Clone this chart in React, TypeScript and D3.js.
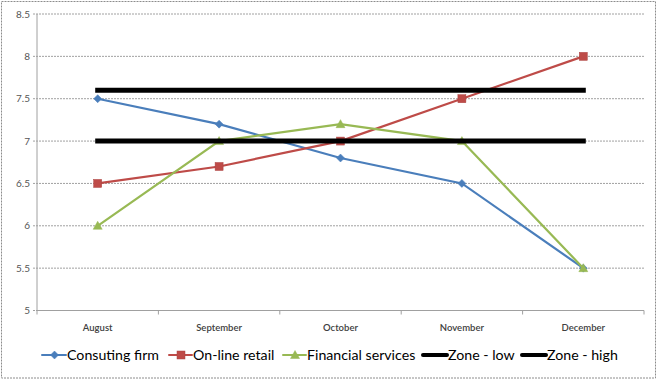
import React from "react";
import * as d3 from "d3";

const categories = ["August", "September", "October", "November", "December"];
const consulting = [7.5, 7.2, 6.8, 6.5, 5.5];
const retail = [6.5, 6.7, 7.0, 7.5, 8.0];
const financial = [6.0, 7.0, 7.2, 7.0, 5.5];
const zoneLow = [7, 7, 7, 7, 7];
const zoneHigh = [7.6, 7.6, 7.6, 7.6, 7.6];
const yTicks = [5, 5.5, 6, 6.5, 7, 7.5, 8, 8.5];
const seriesNames = ["Consuting firm", "On-line retail", "Financial services", "Zone - low", "Zone - high"];

const W = 659, H = 381;
const L = 37, R = 644, T = 14, B = 310.5;

export default function App() {
  const x = d3.scaleBand<string>().domain(categories).range([L, R]);
  const xc = (c: string) => (x(c) as number) + x.bandwidth() / 2;
  const y = d3.scaleLinear().domain([5, 8.5]).range([B, T]);
  const line = d3.line<number>().x((_, i) => xc(categories[i])).y((d) => y(d));

  const series = [
    { name: seriesNames[0], data: consulting, color: "#4A7EBB", marker: "diamond", w: 2.2 },
    { name: seriesNames[1], data: retail, color: "#BE4B48", marker: "square", w: 2.2 },
    { name: seriesNames[2], data: financial, color: "#98B954", marker: "triangle", w: 2.2 },
    { name: seriesNames[3], data: zoneLow, color: "#000000", marker: "none", w: 5 },
    { name: seriesNames[4], data: zoneHigh, color: "#000000", marker: "none", w: 5 },
  ];

  const marker = (type: string, cx: number, cy: number, color: string, key: string | number) => {
    if (type === "diamond") {
      return <path key={key} d={`M${cx},${cy - 4}L${cx + 4},${cy}L${cx},${cy + 4}L${cx - 4},${cy}Z`} fill={color} stroke={color} strokeWidth={0.5} />;
    }
    if (type === "square") {
      return <rect key={key} x={cx - 4} y={cy - 4} width={8} height={8} fill={color} stroke={d3.color(color)!.darker(0.3).toString()} strokeWidth={0.5} />;
    }
    if (type === "triangle") {
      return <path key={key} d={`M${cx},${cy - 4.5}L${cx + 4.5},${cy + 3.5}L${cx - 4.5},${cy + 3.5}Z`} fill={color} stroke={color} strokeWidth={0.5} />;
    }
    return null;
  };

  const legendLineStart = [42, 169, 283, 423, 522];
  const legendTextStart = [67, 193, 307, 448, 547];

  return (
    <svg width={W} height={H} style={{ position: "absolute", left: 0, top: 0, background: "#fff" }}>
      <rect x={1.5} y={1.5} width={654} height={376.5} fill="#fff" stroke="#8c8c8c" strokeWidth={1} strokeDasharray="2,1" />
      {yTicks.map((t) => (
        <g key={t}>
          <line x1={L - 4} x2={R} y1={y(t)} y2={y(t)} stroke="#a0a0a0" strokeWidth={1} strokeDasharray="2,1" />
          <text x={L - 7} y={y(t)} dy="0.35em" textAnchor="end" fontFamily="Lato, 'Open Sans', sans-serif" fontSize={10} fill="#555">{t}</text>
        </g>
      ))}
      <line x1={L} x2={L} y1={T} y2={B} stroke="#a0a0a0" strokeWidth={1} />
      <line x1={L} x2={R} y1={B} y2={B} stroke="#a0a0a0" strokeWidth={1} />
      {categories.map((c, i) => (
        <line key={"tk" + i} x1={(x(c) as number) + x.bandwidth()} x2={(x(c) as number) + x.bandwidth()} y1={B} y2={B + 4} stroke="#a0a0a0" />
      ))}
      <line x1={L} x2={L} y1={B} y2={B + 4} stroke="#a0a0a0" />
      {categories.map((c) => (
        <text key={c} x={xc(c)} y={331} textAnchor="middle" fontFamily="Lato, 'Open Sans', sans-serif" fontSize={9.5} fontWeight={600} fill="#404040">{c}</text>
      ))}
      {series.map((s) => (
        <g key={s.name}>
          <path d={line(s.data) as string} fill="none" stroke={s.color} strokeWidth={s.w} strokeLinecap={s.marker === "none" ? "square" : "round"} />
          {s.data.map((v, i) => marker(s.marker, xc(categories[i]), y(v), s.color, i))}
        </g>
      ))}
      {series.map((s, i) => {
        const lx = legendLineStart[i];
        const tx = legendTextStart[i];
        const ly = 355;
        return (
          <g key={"lg" + i}>
            <line x1={lx} x2={tx - 1} y1={ly} y2={ly} stroke={s.color} strokeWidth={s.marker === "none" ? 4 : 2} strokeLinecap="round" />
            {marker(s.marker, (lx + tx) / 2, ly, s.color, "m")}
            <text x={tx} y={ly} dy="0.35em" fontFamily="Lato, 'Open Sans', sans-serif" fontSize={14.2} fill="#000">{s.name}</text>
          </g>
        );
      })}
    </svg>
  );
}
